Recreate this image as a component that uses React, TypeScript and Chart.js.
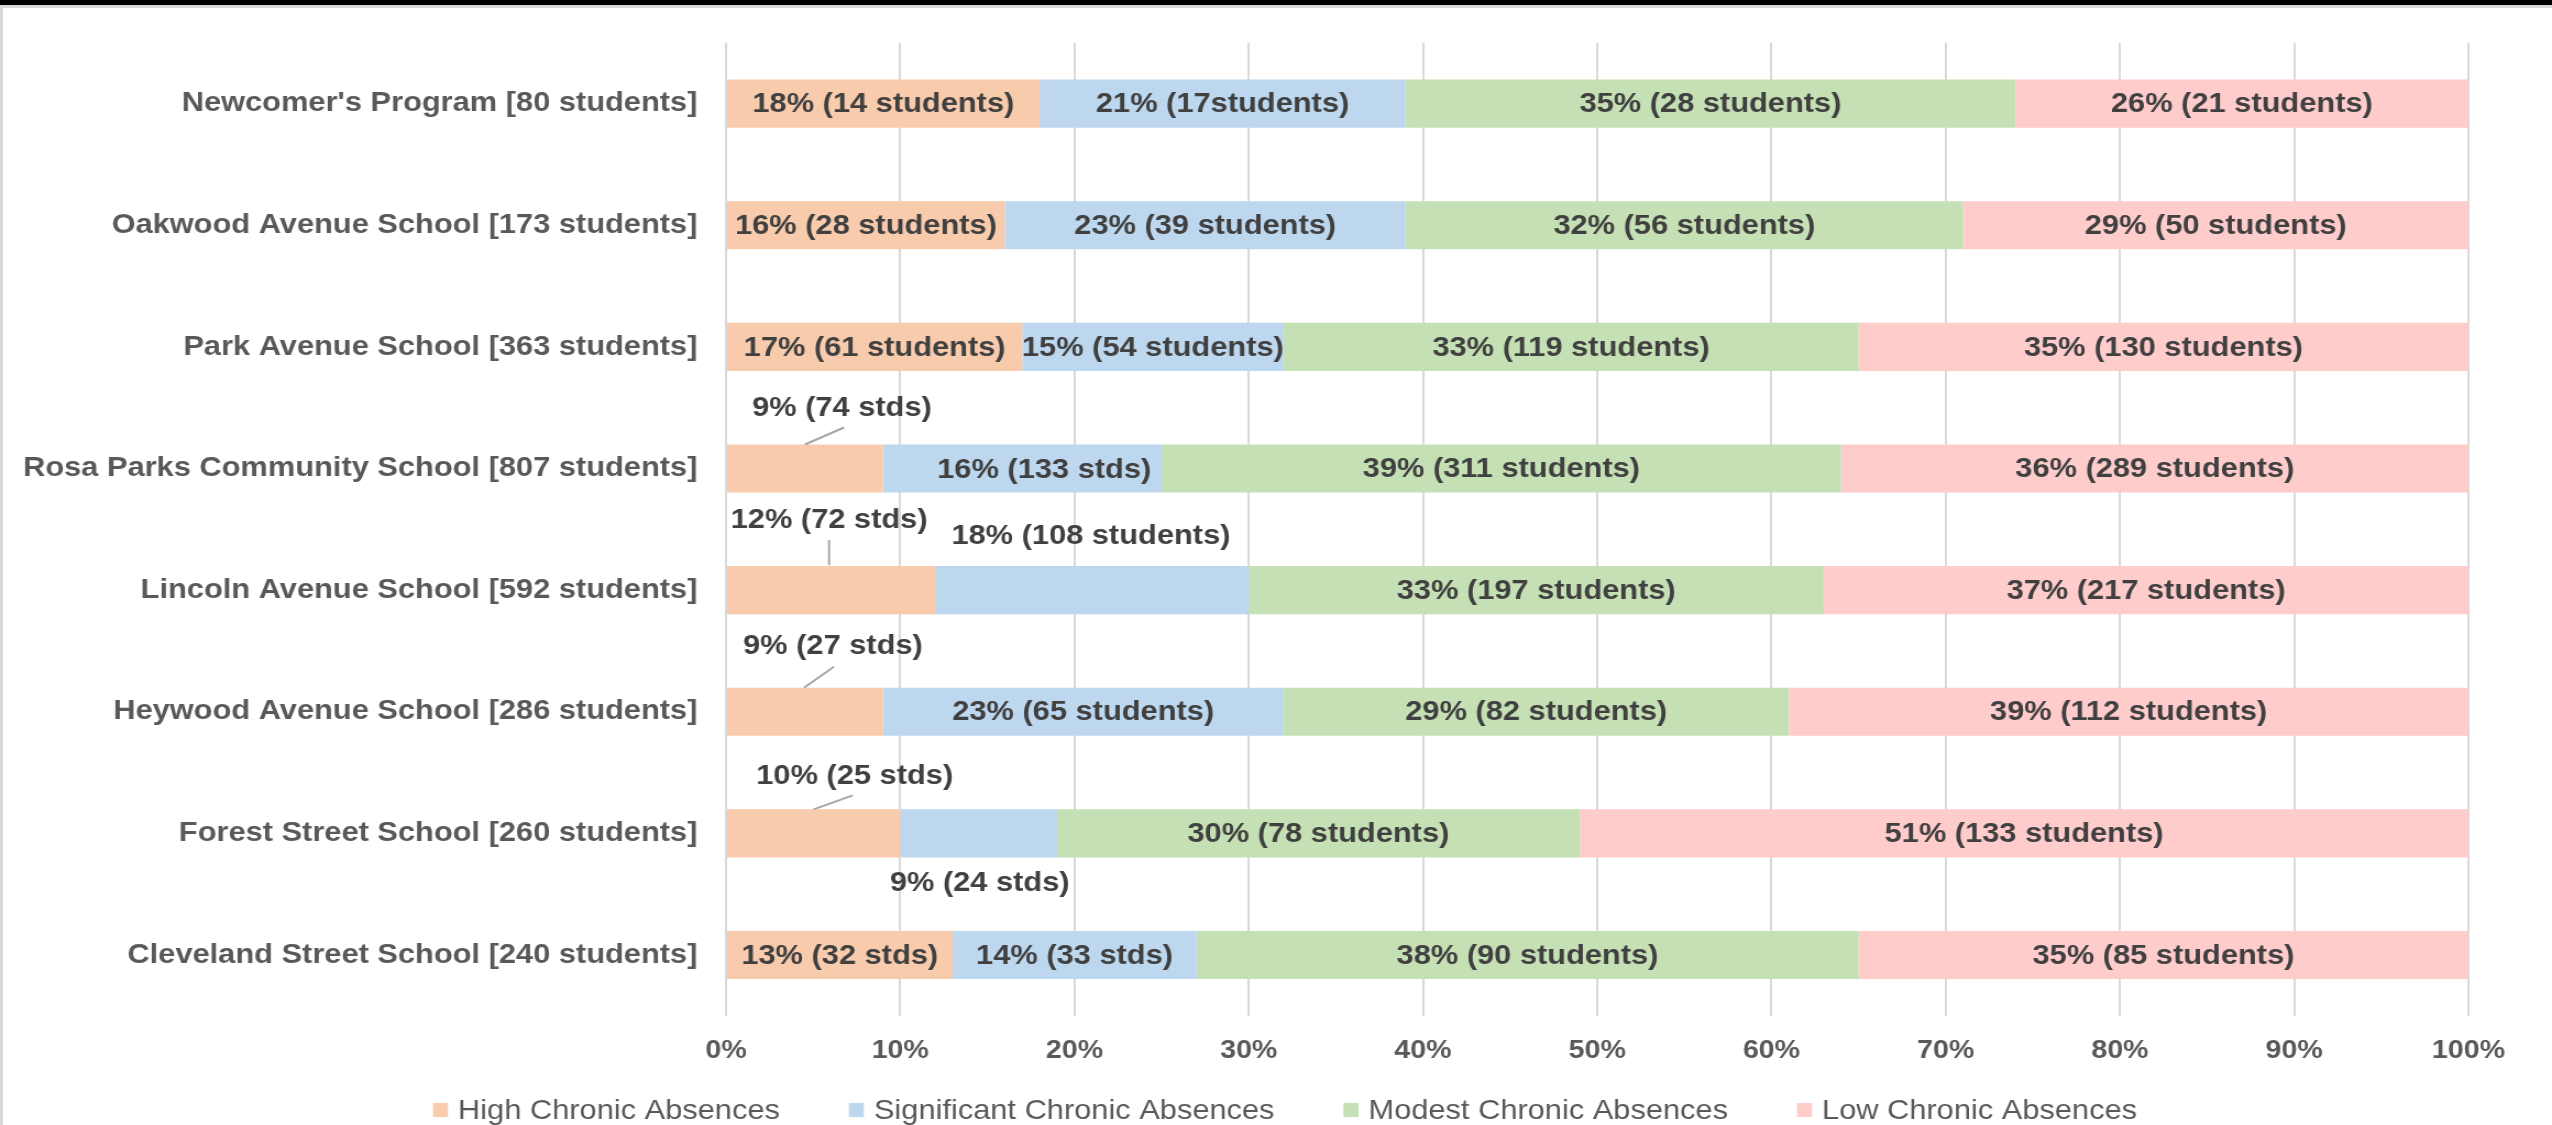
import React, { useEffect, useRef } from 'react';
import { Chart, registerables } from 'chart.js';

Chart.register(...registerables);

// ---------- data ----------
const categories = [
  "Newcomer's Program [80 students]",
  'Oakwood Avenue School [173 students]',
  'Park Avenue School [363 students]',
  'Rosa Parks Community School [807 students]',
  'Lincoln Avenue School [592 students]',
  'Heywood Avenue School [286 students]',
  'Forest Street School [260 students]',
  'Cleveland Street School [240 students]',
];

const seriesNames = [
  'High Chronic Absences',
  'Significant Chronic Absences',
  'Modest Chronic Absences',
  'Low Chronic Absences',
];

const highValues = [18, 16, 17, 9, 12, 9, 10, 13];
const significantValues = [21, 23, 15, 16, 18, 23, 9, 14];
const modestValues = [35, 32, 33, 39, 33, 29, 30, 38];
const lowValues = [26, 29, 35, 36, 37, 39, 51, 35];

const highLabels = [
  '18% (14 students)', '16% (28 students)', '17% (61 students)', '9% (74 stds)',
  '12% (72 stds)', '9% (27 stds)', '10% (25 stds)', '13% (32 stds)',
];
const significantLabels = [
  '21% (17students)', '23% (39 students)', '15% (54 students)', '16% (133 stds)',
  '18% (108 students)', '23% (65 students)', '9% (24 stds)', '14% (33 stds)',
];
const modestLabels = [
  '35% (28 students)', '32% (56 students)', '33% (119 students)', '39% (311 students)',
  '33% (197 students)', '29% (82 students)', '30% (78 students)', '38% (90 students)',
];
const lowLabels = [
  '26% (21 students)', '29% (50 students)', '35% (130 students)', '36% (289 students)',
  '37% (217 students)', '39% (112 students)', '51% (133 students)', '35% (85 students)',
];

const xTickValues = [0, 10, 20, 30, 40, 50, 60, 70, 80, 90, 100];
const xTickLabels = ['0%', '10%', '20%', '30%', '40%', '50%', '60%', '70%', '80%', '90%', '100%'];

// ---------- styling / layout ----------
const seriesColors = ['#F8CBAD', '#BDD7EE', '#C5E0B4', '#FFCCCC'];
const segmentLabels = [highLabels, significantLabels, modestLabels, lowLabels];

const FONT = "'Liberation Sans', Arial, Helvetica, sans-serif";
const PAGE_W = 2552;
const PAGE_H = 1125;
const STRETCH = 1.1; // reference text is horizontally widened
const INNER_W = Math.round(PAGE_W / STRETCH);

// label callouts: offsets (screen px) from segment centre, optional leader line
type Callout = { ds: number; cat: number; dx: number; dy: number; line: number[] | null };
const callouts: Callout[] = [
  { ds: 0, cat: 3, dx: 37, dy: -60, line: [0, -24, 39, -41] },
  { ds: 1, cat: 3, dx: 22, dy: 2, line: null },
  { ds: 0, cat: 4, dx: -2, dy: -70, line: [-2, -25, -2, -50] },
  { ds: 1, cat: 4, dx: -1, dy: -54, line: null },
  { ds: 0, cat: 5, dx: 28, dy: -65, line: [-1, -24, 29, -45] },
  { ds: 0, cat: 6, dx: 41, dy: -57, line: [0, -24, 39, -38] },
  { ds: 1, cat: 6, dx: 1, dy: 50, line: null },
];

const segmentLabelPlugin = {
  id: 'segmentLabels',
  afterDatasetsDraw(chart: any) {
    const ctx = chart.ctx;
    ctx.save();
    ctx.font = `bold 28px ${FONT}`;
    ctx.fillStyle = '#404040';
    ctx.textAlign = 'center';
    ctx.textBaseline = 'middle';
    chart.data.datasets.forEach((_ds: any, di: number) => {
      const meta = chart.getDatasetMeta(di);
      meta.data.forEach((el: any, ci: number) => {
        const { x, y, base } = el.getProps(['x', 'y', 'base'], true);
        const cx = (x + base) / 2;
        const text = segmentLabels[di][ci];
        const co = callouts.find((c) => c.ds === di && c.cat === ci);
        if (co) {
          if (co.line) {
            ctx.save();
            ctx.strokeStyle = '#A6A6A6';
            ctx.lineWidth = 2;
            ctx.beginPath();
            ctx.moveTo(cx + co.line[0] / STRETCH, y + co.line[1]);
            ctx.lineTo(cx + co.line[2] / STRETCH, y + co.line[3]);
            ctx.stroke();
            ctx.restore();
          }
          ctx.fillText(text, cx + co.dx / STRETCH, y + co.dy);
        } else {
          ctx.fillText(text, cx, y + 1);
        }
      });
    });
    ctx.restore();
  },
};

const LEGEND_CENTER_X = 1285; // screen px
const LEGEND_Y = 1110;

const legendPlugin = {
  id: 'bottomLegend',
  afterDraw(chart: any) {
    const ctx = chart.ctx;
    ctx.save();
    ctx.font = `28px ${FONT}`;
    ctx.textBaseline = 'middle';
    ctx.textAlign = 'left';
    const boxW = 15 / STRETCH;
    const boxH = 14;
    const gapText = 10 / STRETCH;
    const gapItems = 69 / STRETCH;
    const items = chart.data.datasets.map((d: any) => ({
      text: d.label,
      color: d.backgroundColor,
      w: ctx.measureText(d.label).width,
    }));
    const total =
      items.reduce((s: number, it: any) => s + boxW + gapText + it.w, 0) + gapItems * (items.length - 1);
    let x = LEGEND_CENTER_X / STRETCH - total / 2;
    items.forEach((it: any) => {
      ctx.fillStyle = it.color;
      ctx.fillRect(x, LEGEND_Y - boxH / 2, boxW, boxH);
      ctx.fillStyle = '#595959';
      ctx.fillText(it.text, x + boxW + gapText, LEGEND_Y + 1);
      x += boxW + gapText + it.w + gapItems;
    });
    ctx.restore();
  },
};

export default function App() {
  const canvasRef = useRef<HTMLCanvasElement | null>(null);

  useEffect(() => {
    const canvas = canvasRef.current;
    if (!canvas) return;
    const values = [highValues, significantValues, modestValues, lowValues];
    const chart = new Chart(canvas, {
      type: 'bar',
      data: {
        labels: categories,
        datasets: seriesNames.map((name, i) => ({
          label: name,
          data: values[i],
          backgroundColor: seriesColors[i],
          borderWidth: 0,
          categoryPercentage: 1,
          barPercentage: 0.395,
        })),
      },
      options: {
        indexAxis: 'y',
        responsive: false,
        animation: false,
        devicePixelRatio: 1,
        layout: { padding: { left: 0, right: INNER_W - Math.round(2468 / STRETCH), top: 40, bottom: 40 } },
        plugins: {
          legend: { display: false },
          tooltip: { enabled: false },
          title: { display: false },
        },
        scales: {
          x: {
            stacked: true,
            min: 0,
            max: 100,
            afterBuildTicks: (scale: any) => {
              scale.ticks = xTickValues.map((v) => ({ value: v }));
            },
            ticks: {
              callback: (_v: any, idx: number) => xTickLabels[idx],
              font: { family: FONT, size: 26, weight: 'bold' },
              color: '#595959',
              padding: 19,
              maxRotation: 0,
            },
            grid: { color: '#D9D9D9', lineWidth: 2, drawTicks: false },
            border: { display: false },
          },
          y: {
            stacked: true,
            afterFit: (scale: any) => {
              scale.width = Math.round(726 / STRETCH);
            },
            ticks: {
              font: { family: FONT, size: 28, weight: 'bold' },
              color: '#595959',
              padding: 26,
            },
            grid: { display: false, drawTicks: false },
            border: { display: false },
          },
        },
      },
      plugins: [segmentLabelPlugin, legendPlugin],
    } as any);
    return () => chart.destroy();
  }, []);

  return (
    <div
      style={{
        position: 'fixed',
        left: 0,
        top: 0,
        width: PAGE_W,
        height: PAGE_H,
        overflow: 'hidden',
        background: '#ffffff',
      }}
    >
      <div style={{ position: 'absolute', left: 0, top: 0, width: PAGE_W, height: 5, background: '#000000' }} />
      <div style={{ position: 'absolute', left: 0, top: 5, width: PAGE_W, height: 3, background: '#D9D9D9' }} />
      <div style={{ position: 'absolute', left: 0, top: 8, width: 3, height: PAGE_H - 8, background: '#D9D9D9' }} />
      <canvas
        ref={canvasRef}
        width={INNER_W}
        height={PAGE_H}
        style={{ position: 'absolute', left: 0, top: 0, width: PAGE_W, height: PAGE_H }}
      />
    </div>
  );
}
